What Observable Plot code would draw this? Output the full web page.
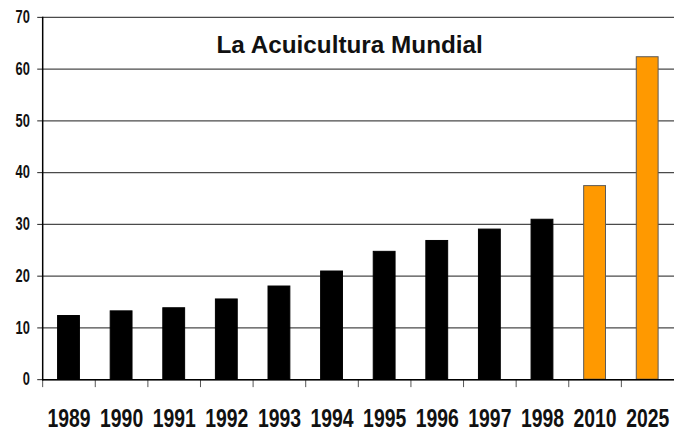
<!DOCTYPE html>
<html><head><meta charset="utf-8">
<script src="https://cdn.jsdelivr.net/npm/d3@7"></script>
<script src="https://cdn.jsdelivr.net/npm/@observablehq/plot@0.6"></script>
<style>
html,body{margin:0;padding:0;background:#fff;overflow:hidden;width:674px;height:432px;}
</style>
</head><body>
<div id="chart"></div>
<script>
const years = ["1989","1990","1991","1992","1993","1994","1995","1996","1997","1998","2010","2025"];
const values = [12.3, 13.2, 13.8, 15.5, 18.0, 20.9, 24.7, 26.8, 29.0, 30.9, 37.4, 62.3];
const projected = [false,false,false,false,false,false,false,false,false,false,true,true];
const yTicks = [0,10,20,30,40,50,60,70];
const title = "La Acuicultura Mundial";

const data = years.map((y,i)=>({year:y, value:values[i], projected:projected[i]}));

const W = 679, H = 432, ML = 42.5, MR = 0;
const step = (W - ML - MR) / years.length;
const font = "'Liberation Sans',Arial,sans-serif";

const chart = Plot.plot({
  width: W, height: H,
  marginLeft: ML, marginRight: MR, marginTop: 17, marginBottom: 50,
  style: {background: "#fff", overflow: "visible"},
  x: {domain: years, paddingInner: 0.585, paddingOuter: 0.2925, label: null},
  y: {domain: [0,70], ticks: yTicks, label: null},
  marks: [
    Plot.gridY(yTicks, {stroke: "#4a4a4a", strokeOpacity: 1, strokeWidth: 1.4}),
    Plot.barY(data, {x: "year", y: "value",
      fill: d => d.projected ? "#ff9900" : "#000",
      stroke: d => d.projected ? "#5a5a5a" : "#000", strokeWidth: 1}),
    Plot.axisY(yTicks, {tickSize: 5, tickPadding: 8, fontSize: 18, fontWeight: "bold",
      fontFamily: font, fill: "#111", stroke: "#222", label: null}),
    Plot.axisX({tickSize: 8, dx: -step/2, tickFormat: () => "", stroke: "#555"}),
    Plot.axisX({tickSize: 0, tickPadding: 29, fontSize: 26, fontWeight: "bold",
      fontFamily: font, fill: "#111", label: null}),
    Plot.ruleY([0], {stroke: "#000", strokeWidth: 1.5}),
    Plot.frame({anchor: "left", stroke: "#000", strokeWidth: 1.5}),
    Plot.text([title], {frameAnchor: "top", lineAnchor: "middle", dy: 28, dx: -9, fontSize: 24.5,
      fontWeight: "bold", fontFamily: font, fill: "#111"})
  ]
});
document.getElementById("chart").appendChild(chart);
// condensed look for the tick labels: squeeze glyphs with textLength
function squeeze(sel, k) {
  chart.querySelectorAll(sel).forEach(el => {
    if (!el.textContent) return;
    const w = el.getComputedTextLength();
    if (w > 0) {
      el.setAttribute("textLength", (w * k).toFixed(1));
      el.setAttribute("lengthAdjust", "spacingAndGlyphs");
    }
  });
}
squeeze('g[aria-label="x-axis tick label"] text', 0.75);
squeeze('g[aria-label="y-axis tick label"] text', 0.72);
</script>
</body></html>
